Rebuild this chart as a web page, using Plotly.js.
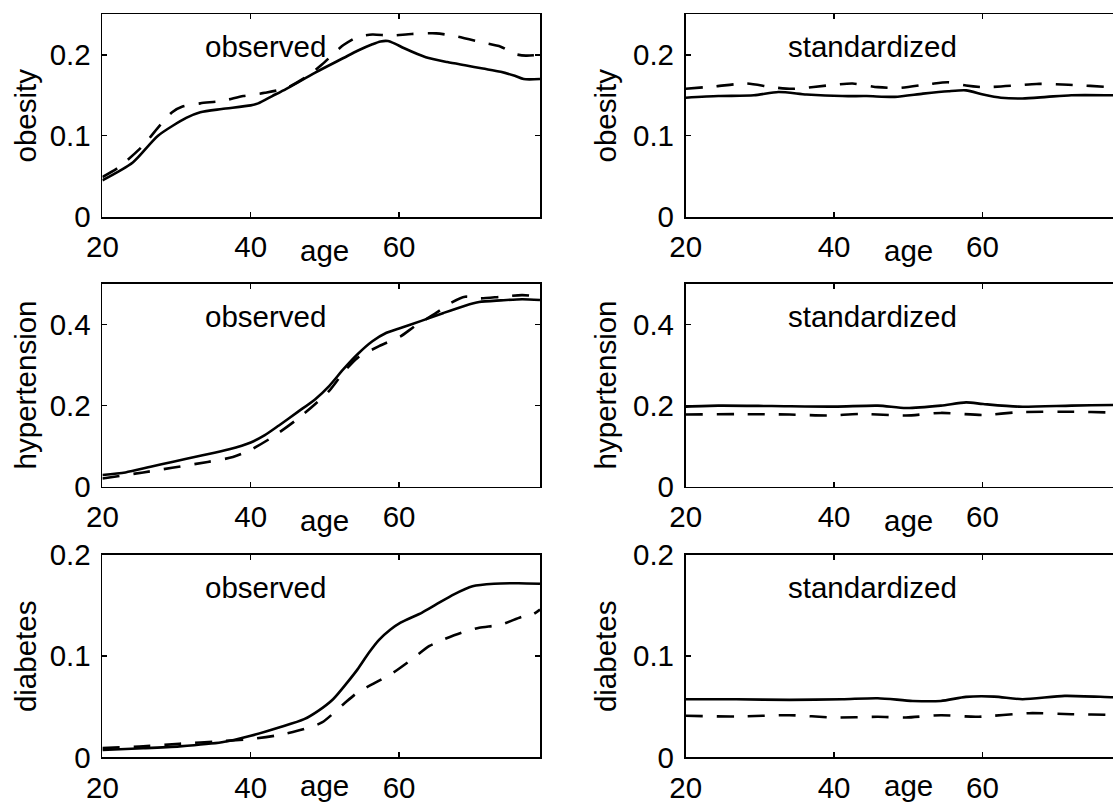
<!DOCTYPE html>
<html>
<head>
<meta charset="utf-8">
<script src="https://cdn.plot.ly/plotly-3.0.1.min.js"></script>
<style>html,body{margin:0;padding:0;background:#fff;}#chart{width:1113px;height:805px;}</style>
</head>
<body>
<div id="chart"></div>
<script>
// ---------- data ----------
const panelTitlesLeft = "observed";
const panelTitlesRight = "standardized";
const outcomes = ["obesity", "hypertension", "diabetes"];
const xTicks = [20, 40, 60];
const yTicksObesity = [0, 0.1, 0.2];
const yTicksHypertension = [0, 0.2, 0.4];
const yTicksDiabetes = [0, 0.1, 0.2];

// obesity, observed
const obsObesitySolidAge = [20, 24.1, 27.5, 31.3, 33.2, 36.1, 40, 41, 42.9, 44.8, 48.7, 52.5, 54.4, 56.4, 57.5, 58.5, 59.5, 60.7, 63.6, 66.5, 68.9, 71.3, 73.7, 75.6, 76.8, 79];
const obsObesitySolid    = [0.045, 0.067, 0.100, 0.122, 0.129, 0.133, 0.1375, 0.140, 0.149, 0.158, 0.178, 0.196, 0.205, 0.213, 0.2165, 0.217, 0.2135, 0.208, 0.197, 0.191, 0.187, 0.183, 0.179, 0.174, 0.170, 0.170];
const obsObesityDashAge  = [20, 22.2, 25.5, 27.5, 29.4, 30.8, 33.2, 36.1, 39, 41.9, 44.8, 47.7, 49.6, 52.5, 54.4, 56.4, 58.8, 61.7, 65, 67.9, 71.3, 73.7, 75.6, 77.1, 79];
const obsObesityDash     = [0.049, 0.061, 0.088, 0.110, 0.129, 0.136, 0.140, 0.143, 0.149, 0.153, 0.159, 0.174, 0.188, 0.212, 0.222, 0.225, 0.2237, 0.2257, 0.2265, 0.2224, 0.215, 0.210, 0.201, 0.199, 0.200];
// obesity, standardized
const stdObesitySolidAge = [20, 24.4, 29.2, 32.5, 36.3, 41.1, 44.4, 48.2, 52, 55.4, 57.8, 60.1, 62.5, 65.4, 68.7, 72, 77.7, 79];
const stdObesitySolid    = [0.147, 0.149, 0.150, 0.154, 0.151, 0.149, 0.149, 0.148, 0.152, 0.155, 0.156, 0.151, 0.147, 0.146, 0.148, 0.150, 0.150, 0.150];
const stdObesityDashAge  = [20, 24, 28.2, 31.6, 34.4, 40.1, 42.5, 45.9, 48.7, 53, 55.4, 57.8, 60.1, 64.4, 67.3, 71.6, 77.7, 79];
const stdObesityDash     = [0.158, 0.161, 0.1645, 0.160, 0.158, 0.163, 0.1645, 0.160, 0.159, 0.164, 0.166, 0.162, 0.160, 0.162, 0.164, 0.163, 0.160, 0.160];

// hypertension, observed
const obsHyperSolidAge = [20, 23.1, 26.5, 29.4, 33.2, 37.1, 40, 41.9, 43.8, 46.3, 48.7, 50.6, 52.5, 54.4, 56.4, 58.3, 60.2, 63.1, 66, 68.9, 70.8, 73.7, 76.6, 79];
const obsHyperSolid    = [0.0286, 0.035, 0.049, 0.061, 0.076, 0.092, 0.109, 0.127, 0.151, 0.184, 0.216, 0.249, 0.290, 0.327, 0.359, 0.380, 0.392, 0.410, 0.429, 0.447, 0.456, 0.460, 0.463, 0.461];
const obsHyperDashAge  = [20, 25.5, 29.4, 34.2, 37.6, 40, 42.9, 46.3, 48.7, 50.6, 52.5, 54.4, 57.3, 60.2, 62.1, 65, 66.9, 68.9, 70.8, 73.7, 76.6, 79];
const obsHyperDash     = [0.020, 0.035, 0.0465, 0.061, 0.073, 0.091, 0.122, 0.167, 0.204, 0.237, 0.282, 0.318, 0.347, 0.371, 0.396, 0.429, 0.453, 0.469, 0.465, 0.469, 0.473, 0.469];
// hypertension, standardized
const stdHyperSolidAge = [20, 24.4, 31.6, 40.1, 45.9, 49.7, 54.4, 57.8, 60.1, 64.9, 72, 77.7, 79];
const stdHyperSolid    = [0.1975, 0.200, 0.199, 0.1975, 0.200, 0.194, 0.200, 0.208, 0.204, 0.1975, 0.200, 0.2016, 0.2016];
const stdHyperDashAge  = [20, 26.8, 34, 39.2, 43.5, 49.7, 54.4, 60.1, 64.9, 72, 77.7, 79];
const stdHyperDash     = [0.178, 0.179, 0.178, 0.1755, 0.1796, 0.1755, 0.182, 0.177, 0.1837, 0.185, 0.183, 0.183];

// diabetes, observed
const obsDiabSolidAge = [20, 25.5, 30.4, 36.1, 40, 43.8, 47.2, 49.1, 51.1, 53, 54.4, 55.9, 57.3, 58.8, 60.2, 63.1, 65, 67.4, 69.9, 72.8, 76.1, 79];
const obsDiabSolid    = [0.0072, 0.0089, 0.0108, 0.0148, 0.0213, 0.0295, 0.0377, 0.0459, 0.0574, 0.0738, 0.0869, 0.103, 0.116, 0.126, 0.133, 0.143, 0.151, 0.161, 0.169, 0.1715, 0.172, 0.1715];
const obsDiabDashAge  = [20, 25.5, 30.4, 36.1, 40, 43.8, 47.2, 49.6, 52.5, 54.4, 56.8, 59.2, 61.7, 64.1, 66, 68.4, 70.8, 73.7, 76.6, 78, 79];
const obsDiabDash     = [0.0092, 0.0108, 0.0134, 0.016, 0.018, 0.022, 0.0279, 0.0344, 0.0525, 0.064, 0.0738, 0.0836, 0.0967, 0.110, 0.1164, 0.123, 0.128, 0.131, 0.139, 0.141, 0.146];
// diabetes, standardized
const stdDiabSolidAge = [20, 26.8, 34, 41.1, 45.9, 50.6, 54.4, 57.8, 61.6, 65.4, 71.1, 77.7, 79];
const stdDiabSolid    = [0.0574, 0.0574, 0.0567, 0.0574, 0.0584, 0.0557, 0.0557, 0.0597, 0.060, 0.0574, 0.0607, 0.0593, 0.0593];
const stdDiabDashAge  = [20, 26.8, 34, 40.1, 45.9, 49.7, 54.4, 59.2, 66.3, 72, 77.7, 79];
const stdDiabDash     = [0.041, 0.0403, 0.0416, 0.0393, 0.040, 0.0393, 0.0416, 0.040, 0.0436, 0.0426, 0.042, 0.042];

// ---------- figure ----------
const FONT = "Liberation Sans, Arial, Helvetica, sans-serif";
const FS = 29.5;
const W = 1113, H = 805;

const panels = [
  {ax: 1, side: "L", outcome: 0, ticks: yTicksObesity, yr: [0, 0.25], s: [obsObesitySolidAge, obsObesitySolid], d: [obsObesityDashAge, obsObesityDash]},
  {ax: 2, side: "R", outcome: 0, ticks: yTicksObesity, yr: [0, 0.25], s: [stdObesitySolidAge, stdObesitySolid], d: [stdObesityDashAge, stdObesityDash]},
  {ax: 3, side: "L", outcome: 1, ticks: yTicksHypertension, yr: [0, 0.5], s: [obsHyperSolidAge, obsHyperSolid], d: [obsHyperDashAge, obsHyperDash]},
  {ax: 4, side: "R", outcome: 1, ticks: yTicksHypertension, yr: [0, 0.5], s: [stdHyperSolidAge, stdHyperSolid], d: [stdHyperDashAge, stdHyperDash]},
  {ax: 5, side: "L", outcome: 2, ticks: yTicksDiabetes, yr: [0, 0.2], s: [obsDiabSolidAge, obsDiabSolid], d: [obsDiabDashAge, obsDiabDash]},
  {ax: 6, side: "R", outcome: 2, ticks: yTicksDiabetes, yr: [0, 0.2], s: [stdDiabSolidAge, stdDiabSolid], d: [stdDiabDashAge, stdDiabDash]}
];

// pixel geometry of the axes boxes
const xDomL = [102.4 / W, 540 / W];
const xDomR = [685.7 / W, 1];
const xRangeL = [20, 79];
const xRangeR = [20, 20 + (W - 685.7) / ((540 - 102.4) / 59)];
const rowTopPx = [14.3, 284.2, 554.9];
const rowH = 202.4;

const traces = [];
const layout = {
  width: W, height: H,
  margin: {l: 0, r: 0, t: 0, b: 0},
  paper_bgcolor: "#fff", plot_bgcolor: "#fff",
  showlegend: false,
  font: {family: FONT, size: FS, color: "#000"},
  annotations: []
};

panels.forEach(p => {
  const xa = p.ax === 1 ? "x" : "x" + p.ax;
  const ya = p.ax === 1 ? "y" : "y" + p.ax;
  const xk = p.ax === 1 ? "xaxis" : "xaxis" + p.ax;
  const yk = p.ax === 1 ? "yaxis" : "yaxis" + p.ax;
  const top = rowTopPx[p.outcome];
  const yDom = [1 - (top + rowH) / H, 1 - top / H];
  const line = {color: "#000", width: 2.6, shape: "spline", smoothing: 0.7};
  traces.push({x: p.s[0], y: p.s[1], xaxis: xa, yaxis: ya, mode: "lines", line: line, hoverinfo: "skip"});
  traces.push({x: p.d[0], y: p.d[1], xaxis: xa, yaxis: ya, mode: "lines", line: Object.assign({}, line, {dash: "17px,14px"}), hoverinfo: "skip"});

  layout[xk] = {
    domain: p.side === "L" ? xDomL : xDomR,
    range: p.side === "L" ? xRangeL : xRangeR,
    anchor: ya,
    tickmode: "array", tickvals: xTicks, ticktext: xTicks.map(String),
    ticks: "inside", ticklen: 5, tickwidth: 1.5, tickcolor: "#000",
    showline: true, linecolor: "#000", linewidth: 1.8, mirror: "ticks",
    showgrid: false, zeroline: false, fixedrange: true,
    tickfont: {family: FONT, size: FS, color: "#000"},
    ticklabelstandoff: 3
  };
  layout[yk] = {
    domain: yDom,
    range: p.yr,
    anchor: xa,
    tickmode: "array", tickvals: p.ticks, ticktext: p.ticks.map(v => v === 0 ? "0" : String(v)),
    ticks: "inside", ticklen: 5, tickwidth: 1.5, tickcolor: "#000",
    showline: true, linecolor: "#000", linewidth: 1.8, mirror: p.side === "L" ? "ticks" : false,
    showgrid: false, zeroline: false, fixedrange: true,
    tickfont: {family: FONT, size: FS, color: "#000"},
    ticklabelstandoff: 4
  };

  // panel label
  layout.annotations.push({
    xref: xa, yref: ya + " domain", x: 33.5, y: 0.84,
    xanchor: "left", yanchor: "middle", showarrow: false,
    text: p.side === "L" ? panelTitlesLeft : panelTitlesRight,
    font: {family: FONT, size: FS, color: "#000"}
  });
  // x title (bottom row nudged up a little so it stays inside the figure)
  layout.annotations.push({
    xref: xa, yref: ya + " domain", x: 50, y: 0, yshift: p.outcome === 2 ? -28 : -34,
    xanchor: "center", yanchor: "middle", showarrow: false,
    text: "age", font: {family: FONT, size: FS, color: "#000"}
  });
  // y title
  layout.annotations.push({
    xref: "paper", yref: ya + " domain",
    x: (p.side === "L" ? 25 : 605) / W, y: 0.5,
    xanchor: "center", yanchor: "middle", textangle: -90, showarrow: false,
    text: outcomes[p.outcome], font: {family: FONT, size: FS, color: "#000"}
  });
});

Plotly.newPlot("chart", traces, layout, {staticPlot: true, displayModeBar: false});
</script>
</body>
</html>
